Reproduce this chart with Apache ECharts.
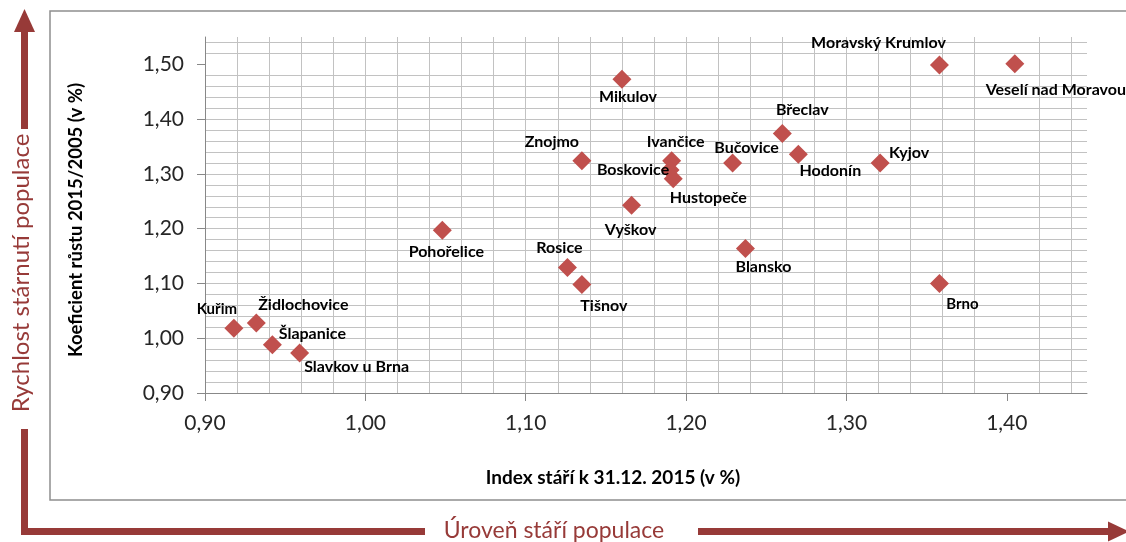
<!DOCTYPE html>
<html>
<head>
<meta charset="utf-8">
<script src="https://cdn.jsdelivr.net/npm/echarts@6/dist/echarts.min.js"></script>
<style>
html,body{margin:0;padding:0;background:#fff;}
#c{width:1126px;height:542px;}
</style>
</head>
<body>
<div id="c"></div>
<script>
// ---- data ----
const names = ["Kuřim","Židlochovice","Šlapanice","Slavkov u Brna","Pohořelice","Rosice","Tišnov","Znojmo","Mikulov","Vyškov","Ivančice","Boskovice","Hustopeče","Bučovice","Blansko","Břeclav","Hodonín","Kyjov","Moravský Krumlov","Veselí nad Moravou","Brno"];
const indexStari = [0.918,0.932,0.942,0.959,1.048,1.126,1.135,1.135,1.160,1.166,1.191,1.190,1.192,1.229,1.237,1.260,1.270,1.321,1.358,1.405,1.358];
const koefRustu = [1.018,1.028,0.988,0.973,1.197,1.129,1.098,1.324,1.473,1.243,1.324,1.307,1.291,1.320,1.164,1.374,1.336,1.320,1.499,1.501,1.100];
const xTicks = [0.90,1.00,1.10,1.20,1.30,1.40];
const yTicks = [0.90,1.00,1.10,1.20,1.30,1.40,1.50];
const xTitle = "Index stáří k 31.12. 2015 (v %)";
const yTitle = "Koeficient růstu 2015/2005 (v %)";
const arrowYText = "Rychlost stárnutí populace";
const arrowXText = "Úroveň stáří populace";

// ---- label layout (styling only): [dx, dy, fontSize] ----
const labelLayout = {
  "Kuřim":[-17,-19,15],"Židlochovice":[47,-18,16],"Šlapanice":[40,-11,16],"Slavkov u Brna":[57,14,16],
  "Pohořelice":[4,22,16],"Rosice":[-8,-20,16],"Tišnov":[22,21,16],"Znojmo":[-30,-19,16],
  "Mikulov":[6,18,16],"Vyškov":[-1,25,16],"Ivančice":[4,-19,16],"Boskovice":[-37,0,16],
  "Hustopeče":[35,19,16],"Bučovice":[14,-15,16],"Blansko":[18,18,16],"Břeclav":[20,-24,16],
  "Hodonín":[32,17,16],"Kyjov":[29,-10,16],"Moravský Krumlov":[-61,-22,16],
  "Veselí nad Moravou":[41,26,16],"Brno":[23,21,15]
};

const FONT = 'Lato, "Open Sans", sans-serif';
const RED = '#973a38';
const GRID = '#c2c2c2';
const fmt = v => Number(v).toFixed(2).replace('.', ',');

const seriesData = names.map((n, i) => {
  const l = labelLayout[n];
  return {name: n, value: [indexStari[i], koefRustu[i]],
    label: {offset: [l[0], l[1]], fontSize: l[2]}};
});

function axisCfg(min, max, ticks, margin) {
  return {
    type: 'value', min: min, max: max, interval: 0.10,
    axisLine: {show: true, onZero: false, lineStyle: {color: '#888888', width: 1}},
    axisTick: {show: true, length: 8, customValues: ticks, lineStyle: {color: '#888888'}},
    axisLabel: {customValues: ticks, formatter: fmt, fontSize: 21, fontFamily: FONT, color: '#262626', margin: margin},
    splitLine: {show: true, showMaxLine: false, lineStyle: {color: GRID, width: 1}},
    minorTick: {show: true, splitNumber: 5, length: 0, lineStyle: {width: 0}},
    minorSplitLine: {show: true, lineStyle: {color: GRID, width: 1}}
  };
}

const chart = echarts.init(document.getElementById('c'), null, {renderer: 'canvas'});
chart.setOption({
  animation: false,
  backgroundColor: '#ffffff',
  grid: {left: 205, top: 37, width: 882, height: 356, containLabel: false},
  xAxis: axisCfg(0.90, 1.45, xTicks, 20),
  yAxis: axisCfg(0.90, 1.55, yTicks, 21),
  series: [{
    type: 'scatter',
    symbol: 'diamond',
    symbolSize: 19,
    itemStyle: {color: '#c0504d', opacity: 1},
    label: {show: true, position: 'inside', formatter: '{b}', fontFamily: FONT, fontWeight: 'bold',
      color: '#000000', align: 'center', verticalAlign: 'middle'},
    emphasis: {disabled: true},
    data: seriesData,
    z: 3
  }],
  graphic: [
    // chart frame
    {type: 'rect', shape: {x: 50, y: 11, width: 1090, height: 489}, style: {fill: 'none', stroke: '#8f8f8f', lineWidth: 1.5}, z: 1},
    // axis titles
    {type: 'text', x: 613, y: 478, style: {text: xTitle, font: 'bold 19px ' + FONT, fill: '#000', align: 'center', verticalAlign: 'middle'}},
    {type: 'text', x: 76, y: 220, rotation: Math.PI / 2, style: {text: yTitle, font: 'bold 18.5px ' + FONT, fill: '#000', align: 'center', verticalAlign: 'middle'}},
    // left vertical arrow
    {type: 'polygon', shape: {points: [[14, 32], [24.5, 9], [35, 32]]}, style: {fill: RED}},
    {type: 'rect', shape: {x: 21, y: 31, width: 7, height: 98}, style: {fill: RED}},
    {type: 'rect', shape: {x: 21, y: 429, width: 7, height: 106}, style: {fill: RED}},
    {type: 'text', x: 21, y: 273, rotation: Math.PI / 2, style: {text: arrowYText, font: '24px ' + FONT, fill: RED, align: 'center', verticalAlign: 'middle'}},
    // bottom horizontal arrow
    {type: 'rect', shape: {x: 21, y: 528, width: 404, height: 7}, style: {fill: RED}},
    {type: 'rect', shape: {x: 698, y: 528, width: 412, height: 7}, style: {fill: RED}},
    {type: 'polygon', shape: {points: [[1108, 521.5], [1129, 531.5], [1108, 541.5]]}, style: {fill: RED}},
    {type: 'text', x: 554, y: 531, style: {text: arrowXText, font: '23px ' + FONT, fill: RED, align: 'center', verticalAlign: 'middle'}}
  ]
});
</script>
</body>
</html>
